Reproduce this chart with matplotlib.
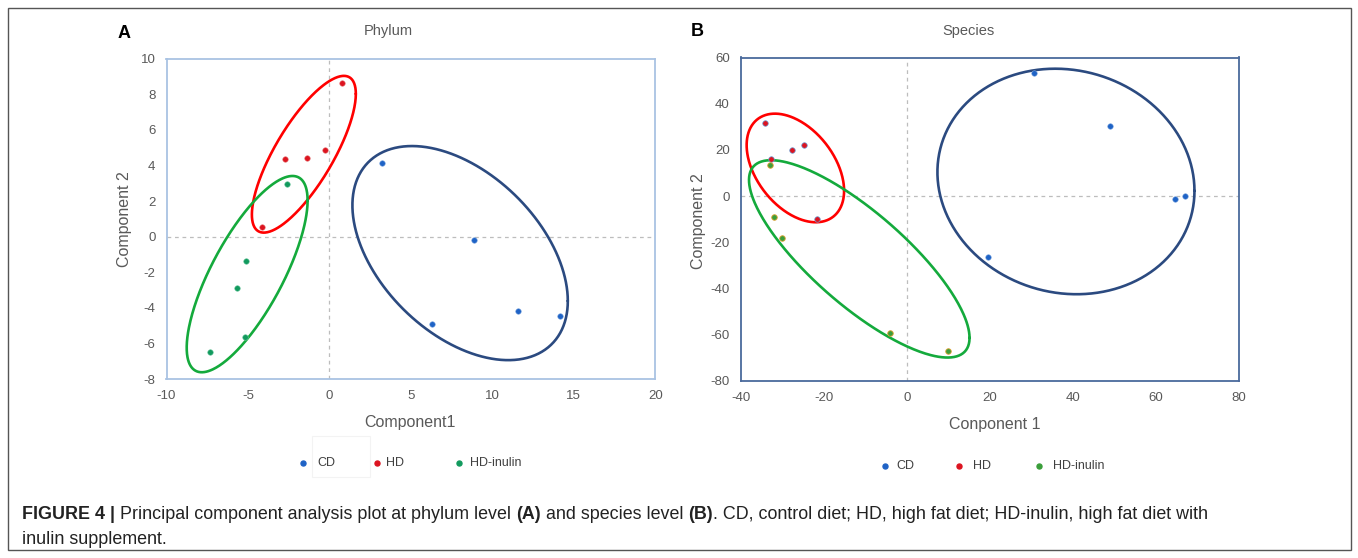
import numpy as np
import matplotlib
matplotlib.use("Agg")
import matplotlib.pyplot as plt
from matplotlib.patches import Rectangle

plt.rcParams['font.family'] = ['Liberation Sans', 'DejaVu Sans']
plt.rcParams['axes.unicode_minus'] = False

# ---- panel A (phylum) ----
cd_a_x = [3.2, 8.88, 6.27, 11.6, 14.16]
cd_a_y = [4.16, -0.16, -4.9, -4.15, -4.43]
hd_a_x = [0.8, -0.27, -1.35, -2.73, -4.13]
hd_a_y = [8.62, 4.87, 4.4, 4.37, 0.52]
ino_a_x = [-2.58, -5.13, -5.7, -5.17, -7.3]
ino_a_y = [2.98, -1.38, -2.88, -5.62, -6.46]

# ---- panel B (species) ----
cd_b_x = [30.5, 48.8, 64.5, 67.1, 19.5]
cd_b_y = [53.3, 30.2, -1.4, 0.2, -26.3]
hd_b_x = [-34.3, -27.8, -24.8, -32.7, -21.6]
hd_b_y = [31.7, 19.9, 22.1, 16.0, -9.9]
ino_b_x = [-33.0, -32.1, -30.0, -4.0, 10.0]
ino_b_y = [13.6, -9.2, -18.1, -59.4, -67.0]

# group ellipses: centre, half extent in x / y, correlation  (order CD, HD, HD-inulin)
ell_a_cx = [8.02, -1.57, -5.05]
ell_a_cy = [-0.92, 4.63, -2.10]
ell_a_rx = [6.61, 3.19, 3.71]
ell_a_ry = [6.01, 4.40, 5.51]
ell_a_rho = [-0.447, 0.77, 0.75]

ell_b_cx = [38.3, -26.9, -11.5]
ell_b_cy = [6.35, 12.2, -27.15]
ell_b_rx = [30.97, 11.74, 26.57]
ell_b_ry = [48.8, 23.5, 42.7]
ell_b_rho = [-0.083, -0.42, -0.80]

groups = ["CD", "HD", "HD-inulin"]

W, H = 1358, 558
fig = plt.figure(figsize=(W / 100, H / 100), dpi=100)


def fx(px):
    return px / W


def fy(py):
    return 1 - py / H


def draw_ellipse(ax, cx, cy, rx, ry, rho, color):
    t = np.linspace(0, 2 * np.pi, 400)
    x = cx + rx * np.cos(t)
    y = cy + ry * (rho * np.cos(t) + np.sqrt(1 - rho ** 2) * np.sin(t))
    ax.plot(x, y, color=color, lw=1.9, zorder=2, solid_capstyle='round')


def style_axes(ax, xlim, ylim, xticks, yticks, spine_col):
    ax.set_xlim(*xlim)
    ax.set_ylim(*ylim)
    ax.set_xticks(xticks)
    ax.set_yticks(yticks)
    ax.tick_params(length=0, labelsize=9.5, labelcolor='#595959', pad=8)
    ax.grid(True, color='#d9d9d9', lw=1.0, zorder=0)
    for tick in ax.xaxis.get_major_ticks() + ax.yaxis.get_major_ticks():
        if tick.get_loc() == 0:
            tick.gridline.set_visible(False)
    ax.axhline(0, color='#bdbdbd', lw=0.9, ls=(0, (3, 3)), zorder=1)
    ax.axvline(0, color='#bdbdbd', lw=0.9, ls=(0, (3, 3)), zorder=1)
    ax.set_axisbelow(True)
    for s in ax.spines.values():
        s.set_color(spine_col)
        s.set_linewidth(1.3)


line_cols = ['#2b4a80', '#ff0000', '#14aa3c']

# panel A
axA = fig.add_axes([fx(166.5), fy(379.2), fx(655.3 - 166.5), (379.2 - 58.6) / H])
style_axes(axA, (-10, 20), (-8, 10), range(-10, 21, 5), range(-8, 11, 2), '#a9c3e3')
axA.scatter(cd_a_x, cd_a_y, s=16, color='#1f63c6', edgecolors='#7fa8e0', linewidths=0.4, zorder=3)
axA.scatter(hd_a_x, hd_a_y, s=16, color='#dc1420', edgecolors='#e88080', linewidths=0.4, zorder=3)
axA.scatter(ino_a_x, ino_a_y, s=16, color='#129a5e', edgecolors='#70c8a0', linewidths=0.4, zorder=3)
for i in range(3):
    draw_ellipse(axA, ell_a_cx[i], ell_a_cy[i], ell_a_rx[i], ell_a_ry[i], ell_a_rho[i], line_cols[i])

# panel B
axB = fig.add_axes([fx(741), fy(381), fx(1239 - 741), (381 - 57.5) / H])
style_axes(axB, (-40, 80), (-80, 60), range(-40, 81, 20), range(-80, 61, 20), '#4a6a9c')
axB.scatter(cd_b_x, cd_b_y, s=16, color='#1f63c6', edgecolors='#7fa8e0', linewidths=0.4, zorder=3)
axB.scatter(hd_b_x, hd_b_y, s=16, color='#dc1420', edgecolors='#6aa0d8', linewidths=0.5, zorder=3)
axB.scatter(ino_b_x, ino_b_y, s=16, color='#3a9e3a', edgecolors='#e0a030', linewidths=0.6, zorder=3)
for i in range(3):
    draw_ellipse(axB, ell_b_cx[i], ell_b_cy[i], ell_b_rx[i], ell_b_ry[i], ell_b_rho[i], line_cols[i])

# titles, panel letters, axis labels
lab_col = '#595959'
fig.text(fx(124.5), fy(33), "A", fontsize=13, fontweight='bold', ha='center', va='center')
fig.text(fx(697), fy(32), "B", fontsize=13, fontweight='bold', ha='center', va='center')
fig.text(fx(388), fy(31), "Phylum", fontsize=10.5, color=lab_col, ha='center', va='center')
fig.text(fx(968), fy(31), "Species", fontsize=10.5, color=lab_col, ha='center', va='center')
fig.text(fx(124.5), fy(219), "Component 2", fontsize=11.5, color=lab_col, rotation=90,
         ha='center', va='center')
fig.text(fx(699), fy(221), "Component 2", fontsize=11.5, color=lab_col, rotation=90,
         ha='center', va='center')
fig.text(fx(410), fy(423), "Component1", fontsize=11.5, color=lab_col, ha='center', va='center')
fig.text(fx(995), fy(425), "Conponent 1", fontsize=11.5, color=lab_col, ha='center', va='center')

# legends
leg_a_mx = [303.3, 377.3, 459]
leg_a_tx = [317, 386, 470]
leg_b_mx = [885, 959, 1039]
leg_b_tx = [896, 973, 1053]
mk_a = ['#1f63c6', '#dc1420', '#129a5e']
mk_b = ['#1f63c6', '#dc1420', '#3a9e3a']
for i in range(3):
    fig.lines.append(plt.Line2D([fx(leg_a_mx[i])], [fy(462.7)], transform=fig.transFigure,
                                marker='o', ms=3.6, color=mk_a[i], ls='none'))
    fig.text(fx(leg_a_tx[i]), fy(462.7), groups[i], fontsize=9, color='#404040', va='center')
    fig.lines.append(plt.Line2D([fx(leg_b_mx[i])], [fy(465.7)], transform=fig.transFigure,
                                marker='o', ms=3.6, color=mk_b[i], ls='none'))
    fig.text(fx(leg_b_tx[i]), fy(465.7), groups[i], fontsize=9, color='#404040', va='center')

# faint box in legend A
fig.patches.append(Rectangle((fx(312), fy(477)), fx(58), 41 / H, transform=fig.transFigure,
                             fill=False, edgecolor='#f3f3f3', lw=0.8))

# caption with bold pieces
renderer = fig.canvas.get_renderer()
cap_size = 12.9


def text_w(s, weight):
    t = fig.text(0, 0, s, fontsize=cap_size, fontweight=weight)
    w = t.get_window_extent(renderer).width
    t.remove()
    return w


space_w = text_w("a a", 'normal') - text_w("aa", 'normal')


def draw_runs(x_px, y_px, runs):
    x = x_px
    for s, weight, gap in runs:
        if gap:
            x += space_w
        fig.text(fx(x), fy(y_px), s, fontsize=cap_size, fontweight=weight,
                 color='#222222', va='baseline')
        x += text_w(s, weight)


draw_runs(22, 519, [("FIGURE 4 |", 'bold', False),
                    ("Principal component analysis plot at phylum level", 'normal', True),
                    ("(A)", 'bold', True),
                    ("and species level", 'normal', True),
                    ("(B)", 'bold', True),
                    (". CD, control diet; HD, high fat diet; HD-inulin, high fat diet with", 'normal', False)])
draw_runs(22, 544, [("inulin supplement.", 'normal', False)])

# outer frame
fig.patches.append(Rectangle((fx(7.5), fy(549.5)), fx(1343), 541.5 / H, transform=fig.transFigure,
                             fill=False, edgecolor='#555555', lw=1.0))

fig.savefig("out.png", dpi=100, facecolor='white')
